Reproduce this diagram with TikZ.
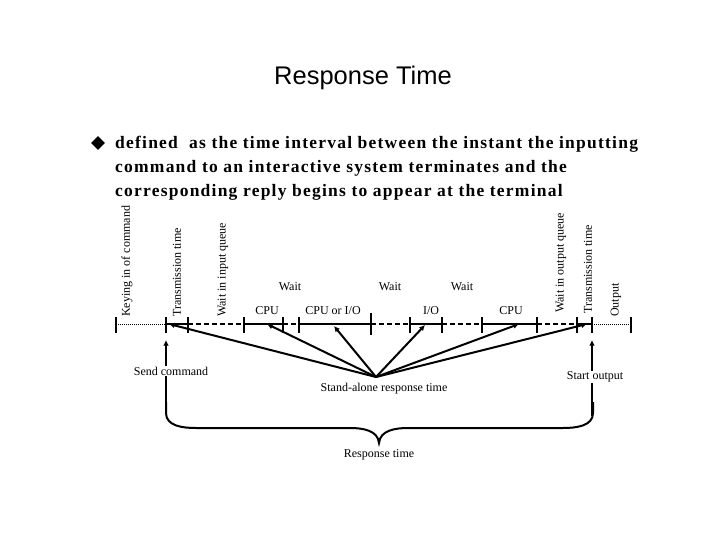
\documentclass[tikz,border=0pt]{standalone}
\usepackage{fontspec}
\setmainfont{Liberation Serif}
\newfontfamily\titlefont{Liberation Sans}
\newfontfamily\deffont[LetterSpace=7]{Liberation Serif}
\usetikzlibrary{arrows.meta,shapes.geometric}

\begin{document}
\begin{tikzpicture}[
  x=1pt,y=-1pt,
  busy/.style={line width=2pt},
  waiting/.style={line width=2pt,dash pattern=on 5pt off 3pt},
  human/.style={line width=1pt,dash pattern=on 1pt off 1pt},
  tickmark/.style={line width=2.5pt},
  lbl/.style={font=\fontsize{12}{14}\selectfont,inner sep=1pt},
  vlbl/.style={lbl,rotate=90,anchor=west},
  arrow/.style={-{Latex[length=2mm,width=2mm]},line width=2pt}
]
\useasboundingbox (0,0) rectangle (720,540);

% title and definition
\node[font=\titlefont\fontsize{25.5}{30}\selectfont] (title) at (363,78) {Response Time};
\node[diamond,fill,inner sep=0,minimum size=14pt] (bullet) at (98,143) {};
\node[anchor=north west,inner sep=0,align=left,
      font=\deffont\bfseries\fontsize{17.5}{24}\selectfont] (def) at (115,136)
  {defined\ \ as the time interval between the instant the inputting\\
   command to an interactive system terminates and the\\
   corresponding reply begins to appear at the terminal};

% time line
\coordinate (t0) at (116,324);
\coordinate (t1) at (166,324);
\coordinate (t2) at (188,324);
\coordinate (t3) at (244,324);
\coordinate (t4) at (283,324);
\coordinate (t5) at (299,324);
\coordinate (t6) at (371,324);
\coordinate (t7) at (410,324);
\coordinate (t8) at (442,324);
\coordinate (t9) at (482,324);
\coordinate (t10) at (537,324);
\coordinate (t11) at (577,324);
\coordinate (t12) at (592,324);
\coordinate (t13) at (631,324);
\draw[human] (t0)--(t1);
\draw[busy] (t1)--(t2);
\draw[waiting] (t2)--(t3);
\draw[busy] (t3)--(t4);
\draw[waiting] (t4)--(t5);
\draw[busy] (t5)--(t6);
\draw[waiting] (t6)--(t7);
\draw[busy] (t7)--(t8);
\draw[waiting] (t8)--(t9);
\draw[busy] (t9)--(t10);
\draw[waiting] (t10)--(t11);
\draw[busy] (t11)--(t12);
\draw[human] (t12)--(t13);
\foreach \t in {t0,t1,t2,t3,t4,t5,t7,t8,t9,t10,t11,t12,t13}
  \draw[tickmark] ([yshift=7pt]\t) -- ([yshift=-9pt]\t);
\draw[tickmark] ([yshift=11pt]t6) -- ([yshift=-11pt]t6);

% phase labels
\node[vlbl] (keying) at (127,318) {Keying in of command};
\node[vlbl] (transin) at (177,318) {Transmission time};
\node[vlbl] (inqueue) at (223,318) {Wait in input queue};
\node[vlbl] (outqueue) at (561,314) {Wait in output queue};
\node[vlbl] (transout) at (588,315) {Transmission time};
\node[vlbl] (output) at (616,318) {Output};
\node[lbl] (waita) at (290,287) {Wait};
\node[lbl] (waitb) at (390,287) {Wait};
\node[lbl] (waitc) at (462,287) {Wait};
\node[lbl] (cpua) at (267,311) {CPU};
\node[lbl] (cpuio) at (333,311) {CPU or I/O};
\node[lbl] (io) at (431,311) {I/O};
\node[lbl] (cpub) at (511,311) {CPU};

% stand-alone response time
\coordinate (hub) at (376,377);
\coordinate (p1) at (169,324);
\coordinate (p2) at (267,324);
\coordinate (p3) at (334,326);
\coordinate (p4) at (425,325);
\coordinate (p5) at (519,324);
\coordinate (p6) at (587,324);
\foreach \p in {p1,p2,p3,p4,p5,p6}
  \draw[arrow] (hub) -- (\p);
\node[lbl] (standalone) at (384,389) {Stand-alone response time};

% send command / start output
\coordinate (sendfoot) at (166,414);
\coordinate (sendtip) at (166,340);
\coordinate (startfoot) at (592,416);
\coordinate (starttip) at (592,340);
\draw[arrow] (sendfoot) -- (sendtip);
\draw[arrow] (startfoot) -- (starttip);
\node[lbl,fill=white] (send) at (171,371) {Send command};
\node[lbl,fill=white] (start) at (595,377) {Start output};

% response time brace
\draw[line width=2pt] (166,402) -- (166,413) to[out=-90,in=180] (196,428)
  -- (350,428) to[out=0,in=95] (379,443) to[out=85,in=180] (408,428)
  -- (563,428) to[out=0,in=-90] (593,413) -- (593,402);
\node[lbl] (response) at (379,455) {Response time};
\end{tikzpicture}
\end{document}
